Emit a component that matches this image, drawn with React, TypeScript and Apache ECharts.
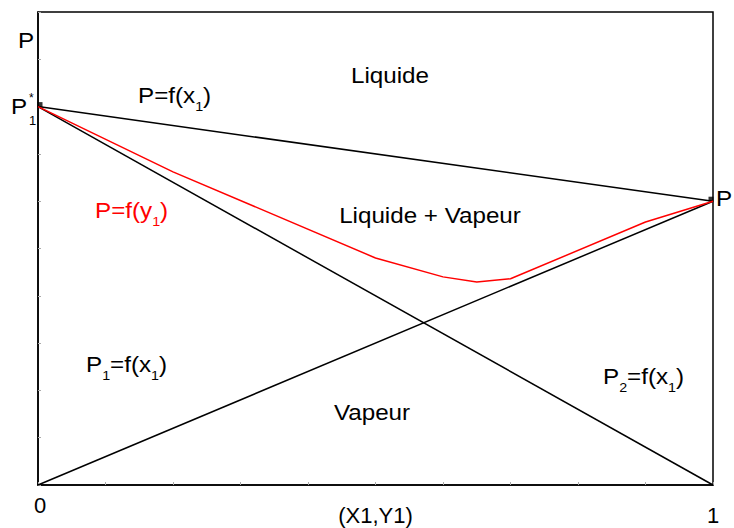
import React, { useEffect, useRef } from 'react';
import * as echarts from 'echarts';

// Vapour pressures of the pure components (reduced scale)
const P1_STAR = 0.8;
const P2_STAR = 0.6;

// Composition range on the x axis
const X_ENDS = [0, 1];

// Dew curve P = f(y1)
const VAPOUR_X = [0, 0.2, 0.5, 0.6, 0.65, 0.7, 0.9, 1];
const VAPOUR_Y = [0.8, 0.662, 0.48, 0.44, 0.429, 0.436, 0.556, 0.6];

// Only the ends of the composition axis carry a label
const X_TICK_LABELS = ['0', '1'];

const FONT = '"Liberation Sans", Arial, sans-serif';
const SX = 1.1;

const richStyles = (color: string) => ({
  m: { fontSize: 22, fontFamily: FONT, color },
  s: { fontSize: 13, fontFamily: FONT, color, padding: [24, 0, 0, 0] },
});

function label(x: number, y: number, text: string, opts: any = {}) {
  const color = opts.color || '#000';
  return {
    type: 'text',
    x,
    y,
    scaleX: opts.scaleX ?? SX,
    silent: true,
    style: {
      text,
      fill: color,
      font: `${opts.size || 22}px ${FONT}`,
      align: opts.align || 'left',
      verticalAlign: 'middle',
      rich: opts.rich ? richStyles(color) : undefined,
    },
  };
}

export default function App() {
  const ref = useRef<HTMLDivElement>(null);

  useEffect(() => {
    if (!ref.current) return;
    const chart = echarts.init(ref.current, null, { renderer: 'svg' });

    const liquidus = X_ENDS.map((x) => [x, P1_STAR + (P2_STAR - P1_STAR) * x]);
    const partial1 = [[X_ENDS[0], P1_STAR], [X_ENDS[1], 0]];
    const partial2 = [[X_ENDS[0], 0], [X_ENDS[1], P2_STAR]];
    const dew = VAPOUR_X.map((x, i) => [x, VAPOUR_Y[i]]);

    const lineStyle = { color: '#000', width: 1.5 };

    chart.setOption({
      animation: false,
      backgroundColor: '#fff',
      grid: {
        left: 38,
        top: 12,
        right: 21,
        bottom: 43,
        containLabel: false,
        outerBoundsMode: 'none',
        show: true,
        borderColor: '#000',
        borderWidth: 1.5,
        backgroundColor: 'transparent',
      },
      xAxis: {
        type: 'value',
        min: 0,
        max: 1,
        interval: 0.1,
        name: '(X1,Y1)',
        nameLocation: 'middle',
        nameGap: 19,
        nameMoveOverlap: false,
        nameTextStyle: { fontSize: 22, fontFamily: FONT, color: '#000' },
        axisLine: { show: true, lineStyle: { color: '#000', width: 1.5 } },
        axisTick: { show: true, inside: true, length: 3, lineStyle: { color: '#aaa', width: 1 } },
        splitLine: { show: false },
        axisLabel: {
          margin: 9,
          fontSize: 22,
          fontFamily: FONT,
          color: '#000',
          formatter: (v: number) =>
            v === 0 ? `{z|${X_TICK_LABELS[0]}}` : v === 1 ? `{o|${X_TICK_LABELS[1]}}` : '',
          rich: {
            z: { fontSize: 22, fontFamily: FONT, color: '#000', padding: [0, 0, 0, 4] },
            o: { fontSize: 22, fontFamily: FONT, color: '#000', padding: [10, 0, 0, 0] },
          },
        },
      },
      yAxis: {
        type: 'value',
        min: 0,
        max: 1,
        interval: 0.1,
        axisLine: { show: true, lineStyle: { color: '#000', width: 1.5 } },
        axisTick: { show: true, inside: true, length: 3, lineStyle: { color: '#aaa', width: 1 } },
        splitLine: { show: false },
        axisLabel: { show: false },
      },
      series: [
        { type: 'line', data: liquidus, symbol: 'none', lineStyle, clip: false },
        { type: 'line', data: partial1, symbol: 'none', lineStyle, clip: false },
        { type: 'line', data: partial2, symbol: 'none', lineStyle, clip: false },
        {
          type: 'line',
          data: dew,
          symbol: 'none',
          lineStyle: { color: '#ff0000', width: 1.5 },
          clip: false,
        },
        {
          type: 'scatter',
          clip: false,
          symbol: 'rect',
          symbolSize: 5,
          itemStyle: { color: '#000' },
          data: [
            { value: [X_ENDS[0], P1_STAR], symbolOffset: [2, -2] },
            { value: [X_ENDS[1], P2_STAR], symbolOffset: [-2, -2] },
          ],
        },
      ],
      graphic: [
        label(18, 40, 'P'),
        label(11, 106, 'P'),
        label(29, 98, '*', { size: 12, scaleX: 1 }),
        label(29, 120, '1', { size: 13, scaleX: 1 }),
        label(716, 198, 'P'),
        label(138, 95, '{m|P=f(x}{s|1}{m|)}', { rich: true }),
        label(390, 75, 'Liquide', { align: 'center' }),
        label(95, 210, '{m|P=f(y}{s|1}{m|)}', { rich: true, color: '#ff0000' }),
        label(430, 215, 'Liquide + Vapeur', { align: 'center' }),
        label(86, 364, '{m|P}{s|1}{m|=f(x}{s|1}{m|)}', { rich: true }),
        label(603, 376, '{m|P}{s|2}{m|=f(x}{s|1}{m|)}', { rich: true }),
        label(372, 412, 'Vapeur', { align: 'center' }),
      ],
    });

    return () => chart.dispose();
  }, []);

  return (
    <div
      ref={ref}
      style={{ position: 'absolute', left: 0, top: 0, width: 734, height: 528, background: '#fff' }}
    />
  );
}
